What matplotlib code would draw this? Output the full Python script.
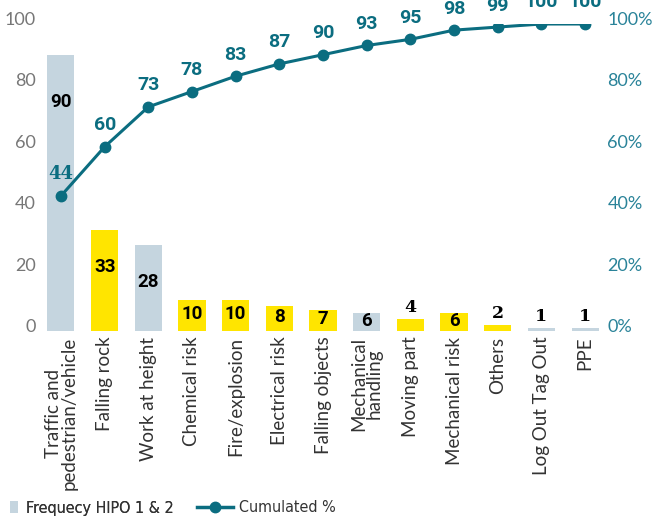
import matplotlib
matplotlib.use("Agg")
import matplotlib.pyplot as plt
from matplotlib.lines import Line2D
from matplotlib.patches import Patch
from matplotlib.transforms import ScaledTranslation

categories = [
    "Traffic and\npedestrian/vehicle", "Falling rock", "Work at height",
    "Chemical risk", "Fire/explosion", "Electrical risk", "Falling objects",
    "Mechanical\nhandling", "Moving part", "Mechanical risk", "Others",
    "Log Out Tag Out", "PPE",
]
frequency = [90, 33, 28, 10, 10, 8, 7, 6, 4, 6, 2, 1, 1]
cumulated_pct = [44, 60, 73, 78, 83, 87, 90, 93, 95, 98, 99, 100, 100]
highlight = [False, True, False, True, True, True, True, False, True, True, True, False, False]
left_ticks = [0, 20, 40, 60, 80, 100]
right_ticks = [0, 20, 40, 60, 80, 100]

GREY_BLUE = "#c5d5df"
YELLOW = "#ffe500"
TEAL = "#0b6d80"
TEAL_LIGHT = "#2a8399"

W, H = 669, 518
fig = plt.figure(figsize=(W / 100, H / 100), dpi=100)
ax = fig.add_axes([41.3 / W, (H - 331) / H, (604.7 - 41.3) / W, (331 - 24) / H])
ax2 = ax.twinx()

x = list(range(len(categories)))
colors = [YELLOW if h else GREY_BLUE for h in highlight]
ax.bar(x, frequency, width=0.62, color=colors, zorder=1)

for xi, v in zip(x, frequency):
    if v >= 5:
        off = min(v * 0.45, max(12, v * 0.17))
        ax.text(xi, v - off, str(v), ha="center", va="center", fontsize=13.5,
                fontweight="bold", family="Roboto", color="black", zorder=3)
    else:
        ax.text(xi, v + 0.8, str(v), ha="center", va="bottom", fontsize=12.5,
                fontweight="bold", family="DejaVu Serif", color="black", zorder=3)

ax2.plot(x, cumulated_pct, color=TEAL, lw=2.2, marker="o", markersize=7.5, zorder=4)
for i, (xi, c) in enumerate(zip(x, cumulated_pct)):
    fam = "DejaVu Serif" if i == 0 else "Roboto"
    ax2.annotate(str(c), (xi, c), xytext=(0, 9), textcoords="offset points",
                 ha="center", va="bottom", fontsize=14 if i else 13, fontweight="bold",
                 family=fam, color=TEAL, annotation_clip=False, zorder=5)

for a in (ax, ax2):
    a.set_xlim(-0.45, len(categories) - 0.55)
    a.set_ylim(0, 100)
    for s in a.spines.values():
        s.set_visible(False)
    a.tick_params(length=0)

ax.set_xticks(x)
ax.set_xticklabels(categories, rotation=90, fontsize=13.5, family="Lato",
                   color="#333333", linespacing=0.9, va="top", ha="center")
ax.tick_params(axis="x", pad=4)

ax.set_yticks(left_ticks)
ax.set_yticklabels([str(t) for t in left_ticks], fontsize=13, family="Lato",
                   color="#777777")
ax.tick_params(axis="y", pad=4)

ax2.set_yticks(right_ticks)
ax2.set_yticklabels([f"{t}%" for t in right_ticks], fontsize=13, family="Lato",
                    color=TEAL_LIGHT)
ax2.tick_params(axis="y", pad=2)

shift = ScaledTranslation(0, 0.055, fig.dpi_scale_trans)
for lab in ax.get_yticklabels() + ax2.get_yticklabels():
    lab.set_transform(lab.get_transform() + shift)

ax2.set_zorder(ax.get_zorder() + 1)
ax2.patch.set_visible(False)

legend_font = {"family": "DejaVu Sans", "stretch": "condensed", "size": 11.5}
leg1 = fig.legend(handles=[Patch(facecolor=GREY_BLUE, edgecolor="none", label="Frequecy HIPO 1 & 2")],
                  loc="center left", bbox_to_anchor=(-4 / W, (H - 508) / H), frameon=False,
                  handlelength=0.45, handleheight=0.8, handletextpad=0.5,
                  prop=legend_font, labelcolor="#333333")
leg2 = fig.legend(handles=[Line2D([], [], color=TEAL, lw=2.5, marker="o", markersize=7.5,
                                  label="Cumulated %")],
                  loc="center left", bbox_to_anchor=(183 / W, (H - 508) / H), frameon=False,
                  handlelength=2.2, handletextpad=0.4,
                  prop=legend_font, labelcolor="#333333")
fig.add_artist(leg1)

fig.savefig("out.png", dpi=100)
